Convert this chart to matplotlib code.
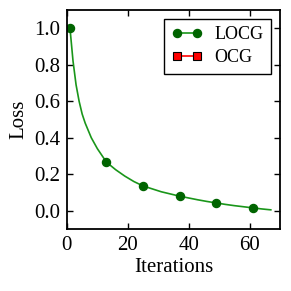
import matplotlib
matplotlib.use('Agg')
import matplotlib.pyplot as plt

plt.rcParams['font.family'] = ['Liberation Serif', 'DejaVu Serif']
plt.rcParams['font.size'] = 15

# data
iters = [1, 2, 3, 4, 5, 6, 8, 10, 13, 16, 19, 22, 25, 28, 31, 34, 37,
         40, 43, 46, 49, 52, 55, 58, 61, 64, 67]
loss_locg = [1.0, 0.82, 0.69, 0.60, 0.53, 0.48, 0.40, 0.34, 0.266, 0.225,
             0.19, 0.16, 0.136, 0.12, 0.104, 0.092, 0.08, 0.07, 0.06, 0.051,
             0.043, 0.035, 0.028, 0.022, 0.016, 0.01, 0.005]
marker_iters = [1, 13, 25, 37, 49, 61]
iters_ocg = []
loss_ocg = []

fig = plt.figure(figsize=(2.91, 2.91), dpi=100)
ax = fig.add_axes([0.230, 0.213, 0.732, 0.753])

mark_idx = [iters.index(i) for i in marker_iters]
ax.plot(iters, loss_locg, color='#1a961a', linewidth=1.2, marker='o',
        markersize=5.8, markerfacecolor='#006400', markeredgecolor='#006400',
        markevery=mark_idx, label='LOCG')
ax.plot(iters_ocg, loss_ocg, color='red', linewidth=1.2, marker='s',
        markersize=5.8, markerfacecolor='red', markeredgecolor='black',
        markeredgewidth=0.8, label='OCG')

ax.set_xlim(0, 70)
ax.set_ylim(-0.1, 1.1)
ax.set_xticks([0, 20, 40, 60])
ax.set_yticks([0.0, 0.2, 0.4, 0.6, 0.8, 1.0])
ax.tick_params(direction='in', top=True, right=True, length=4, width=1,
               labelsize=15, pad=5)
for s in ax.spines.values():
    s.set_linewidth(1.3)

ax.set_xlabel('Iterations', labelpad=2)
ax.set_ylabel('Loss', labelpad=4)

leg = ax.legend(loc='upper right', fancybox=False, edgecolor='black',
                framealpha=1, fontsize=13, numpoints=2, handlelength=1.7,
                handletextpad=0.7, borderaxespad=0.5, labelspacing=0.35)
leg.get_frame().set_linewidth(1.0)

fig.savefig('out.png', dpi=100)
